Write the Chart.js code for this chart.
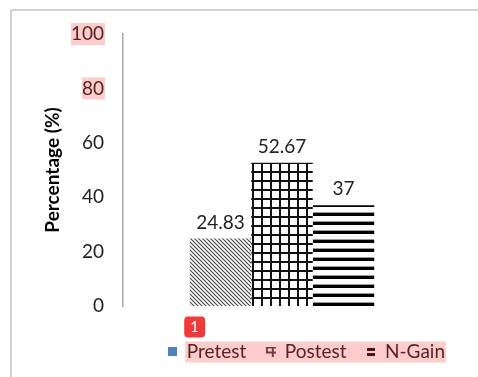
<!DOCTYPE html>
<html>
<head>
<meta charset="utf-8">
<script src="https://cdn.jsdelivr.net/npm/chart.js@4"></script>
<style>
	html, body { margin: 0; padding: 0; background: #fff; }
	#wrap { position: relative; width: 478px; height: 377px; }
</style>
</head>
<body>
<div id="wrap"><canvas id="chart" width="478" height="377"></canvas></div>
<script>

const categories = [''];
const seriesNames = ['Pretest', 'Postest', 'N-Gain'];
const pretest = [24.83];
const postest = [52.67];
const ngain = [37];
const yTicks = [0, 20, 40, 60, 80, 100];

const FONT = 'Lato, "Open Sans", sans-serif';
const ctx = document.getElementById('chart').getContext('2d');


function tile(w, h, draw) {
	const c = document.createElement('canvas');
	c.width = w;
	c.height = h;
	const g = c.getContext('2d');
	draw(g);
	return c;
}

// bar fills
const diagonal = ctx.createPattern(tile(4, 4, function(g) {
	g.fillStyle = '#fff';
	g.fillRect(0, 0, 4, 4);
	g.strokeStyle = '#4a4a4a';
	g.lineWidth = 1.2;
	g.beginPath();
	g.moveTo(-1, -1); g.lineTo(5, 5);
	g.moveTo(-1, 3); g.lineTo(1, 5);
	g.moveTo(3, -1); g.lineTo(5, 1);
	g.stroke();
}), 'repeat');

const grid = ctx.createPattern(tile(9, 9, function(g) {
	g.fillStyle = '#fff';
	g.fillRect(0, 0, 9, 9);
	g.fillStyle = '#111';
	g.fillRect(0, 0, 9, 2);
	g.fillRect(0, 0, 2, 9);
}), 'repeat');

const stripes = ctx.createPattern(tile(4, 9, function(g) {
	g.fillStyle = '#fff';
	g.fillRect(0, 0, 4, 9);
	g.fillStyle = '#000';
	g.fillRect(0, 6, 4, 3);
	g.fillStyle = '#999';
	g.fillRect(0, 5, 4, 1);
}), 'repeat');

// legend swatches
const swatchPre = tile(9, 9, function(g) {
	g.fillStyle = '#4f81bd';
	g.fillRect(0, 0, 9, 9);
});
const swatchPost = tile(10, 10, function(g) {
	g.fillStyle = '#444';
	g.fillRect(0, 0, 10, 2);
	g.fillRect(0, 0, 2, 7);
	g.fillRect(6, 0, 2, 10);
	g.fillRect(0, 5, 10, 2);
});
const swatchGain = tile(8, 9, function(g) {
	g.fillStyle = '#111';
	g.fillRect(0, 1, 8, 3);
	g.fillRect(0, 6, 8, 3);
});


const frame = {
	id: 'frame',
	beforeDraw(chart) {
		const c = chart.ctx;
		c.save();
		c.fillStyle = '#fff';
		c.fillRect(0, 0, chart.width, chart.height);
		c.strokeStyle = '#c4c4c4';
		c.lineWidth = 1.5;
		c.beginPath();
		c.moveTo(11, chart.height);
		c.lineTo(11, 10);
		c.lineTo(chart.width, 10);
		c.stroke();
		c.restore();
	}
};

const valueLabels = {
	id: 'valueLabels',
	afterDatasetsDraw(chart) {
		const c = chart.ctx;
		c.save();
		c.font = '19px ' + FONT;
		c.fillStyle = '#222';
		c.textAlign = 'center';
		c.textBaseline = 'middle';
		chart.data.datasets.forEach(function(ds, i) {
			chart.getDatasetMeta(i).data.forEach(function(bar, j) {
				c.fillText(String(ds.data[j]), bar.x, bar.y - 16);
			});
		});
		c.restore();
	}
};

// pink marks and the numbered badge seen on the picture
const marks = {
	id: 'marks',
	afterDraw(chart) {
		const c = chart.ctx;
		const y = chart.scales.y;
		c.save();
		c.font = '19px ' + FONT;
		c.fillStyle = 'rgba(255, 40, 40, 0.24)';
		[100, 80].forEach(function(v) {
			const w = c.measureText(String(v)).width;
			const py = y.getPixelForValue(v);
			c.fillRect(104 - w, py - 11, w + 1, 22);
		});

		const boxes = chart.legend.legendHitBoxes;
		const bw = chart.legend.options.labels.boxWidth;
		const first = boxes[0];
		const last = boxes[boxes.length - 1];
		const x0 = first.left + bw + 8;
		const x1 = last.left + last.width + 1;
		const cy = first.top + first.height / 2;
		c.fillRect(x0, cy - 10, x1 - x0, 21);

		c.fillStyle = '#f03a3a';
		c.beginPath();
		c.roundRect(x0 - 1, cy - 35, 21, 21, 4);
		c.fill();
		c.fillStyle = '#fff';
		c.font = '15px ' + FONT;
		c.textAlign = 'center';
		c.textBaseline = 'middle';
		c.fillText('1', x0 + 9.5, cy - 24);
		c.restore();
	}
};


new Chart(ctx, {
	type: 'bar',
	data: {
		labels: categories,
		datasets: [
			{label: seriesNames[0], data: pretest, backgroundColor: diagonal, pointStyle: swatchPre},
			{label: seriesNames[1], data: postest, backgroundColor: grid, pointStyle: swatchPost},
			{label: seriesNames[2], data: ngain, backgroundColor: stripes, pointStyle: swatchGain}
		]
	},
	options: {
		responsive: false,
		animation: false,
		events: [],
		layout: {
			padding: {left: 37, right: 13, top: 34, bottom: 6}
		},
		datasets: {
			bar: {
				categoryPercentage: 0.58,
				barPercentage: 1,
				borderWidth: 0
			}
		},
		plugins: {
			tooltip: {enabled: false},
			legend: {
				position: 'bottom',
				align: 'end',
				labels: {
					usePointStyle: true,
					boxWidth: 9,
					boxHeight: 9,
					padding: 20,
					color: '#222',
					font: {family: FONT, size: 19}
				}
			}
		},
		scales: {
			x: {
				grid: {display: false},
				border: {display: false},
				ticks: {display: false},
				afterFit(scale) {
					scale.height = 16;
				}
			},
			y: {
				min: 0,
				max: 100,
				afterBuildTicks(scale) {
					scale.ticks = yTicks.map(function(v) { return {value: v}; });
				},
				grid: {display: false, drawTicks: false},
				border: {display: true, color: '#a8a8a8', width: 1.5},
				ticks: {
					padding: 19,
					color: '#222',
					font: {family: FONT, size: 19}
				},
				title: {
					display: true,
					text: 'Percentage (%)',
					color: '#000',
					font: {family: FONT, size: 19, weight: 'bold'}
				},
				afterFit(scale) {
					scale.width = 86;
				}
			},
			spare: {
				position: 'right',
				grid: {display: false},
				border: {display: false},
				ticks: {display: false},
				afterFit(scale) {
					scale.width = 24;
				}
			}
		}
	},
	plugins: [frame, valueLabels, marks]
});

</script>
</body>
</html>
